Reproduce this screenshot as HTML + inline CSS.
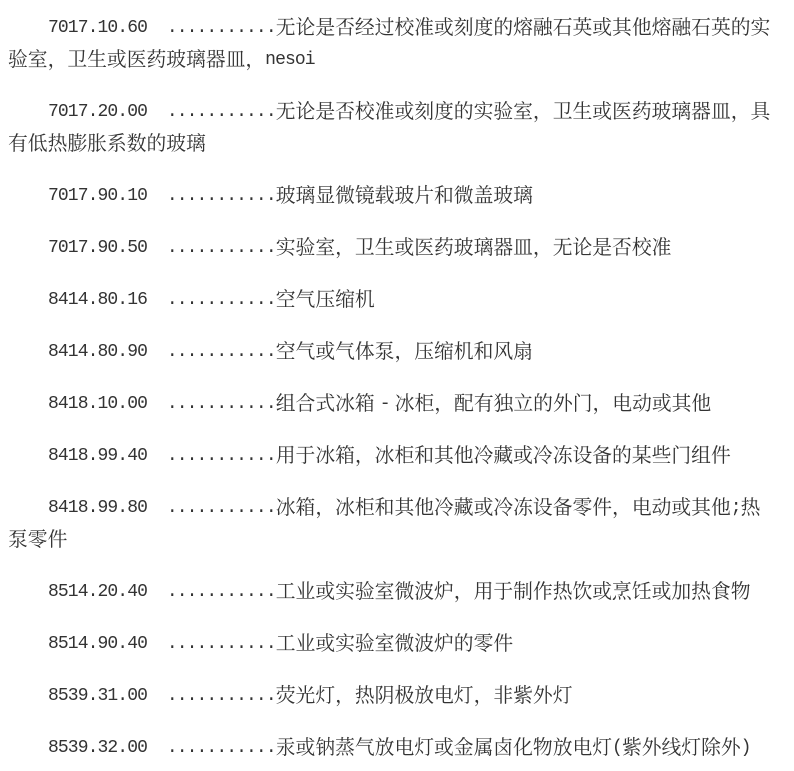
<!DOCTYPE html>
<html><head><meta charset="utf-8"><style>
body{margin:0;width:794px;height:771px;background:#fff;position:relative;overflow:hidden}
.l{position:absolute;left:48px;height:32px;line-height:32px;white-space:pre;color:#333;font-family:"Noto Serif CJK SC","WenQuanYi Zen Hei",serif;font-size:19.8px}
.l.w{left:8px}
.m{font-family:"Liberation Mono",monospace;font-size:18px;letter-spacing:-0.9px;position:relative;top:-2px}
</style></head><body>
<div class="l" style="top:10px"><span class="m">7017.10.60  ...........</span>无论是否经过校准或刻度的熔融石英或其他熔融石英的实</div>
<div class="l w" style="top:42px">验室，卫生或医药玻璃器皿，<span class="m">nesoi</span></div>
<div class="l" style="top:94px"><span class="m">7017.20.00  ...........</span>无论是否校准或刻度的实验室，卫生或医药玻璃器皿，具</div>
<div class="l w" style="top:126px">有低热膨胀系数的玻璃</div>
<div class="l" style="top:178px"><span class="m">7017.90.10  ...........</span>玻璃显微镜载玻片和微盖玻璃</div>
<div class="l" style="top:230px"><span class="m">7017.90.50  ...........</span>实验室，卫生或医药玻璃器皿，无论是否校准</div>
<div class="l" style="top:282px"><span class="m">8414.80.16  ...........</span>空气压缩机</div>
<div class="l" style="top:334px"><span class="m">8414.80.90  ...........</span>空气或气体泵，压缩机和风扇</div>
<div class="l" style="top:386px"><span class="m">8418.10.00  ...........</span>组合式冰箱 <span class="m">-</span> 冰柜，配有独立的外门，电动或其他</div>
<div class="l" style="top:438px"><span class="m">8418.99.40  ...........</span>用于冰箱，冰柜和其他冷藏或冷冻设备的某些门组件</div>
<div class="l" style="top:490px"><span class="m">8418.99.80  ...........</span>冰箱，冰柜和其他冷藏或冷冻设备零件，电动或其他<span class="m">;</span>热</div>
<div class="l w" style="top:522px">泵零件</div>
<div class="l" style="top:574px"><span class="m">8514.20.40  ...........</span>工业或实验室微波炉，用于制作热饮或烹饪或加热食物</div>
<div class="l" style="top:626px"><span class="m">8514.90.40  ...........</span>工业或实验室微波炉的零件</div>
<div class="l" style="top:678px"><span class="m">8539.31.00  ...........</span>荧光灯，热阴极放电灯，非紫外灯</div>
<div class="l" style="top:730px"><span class="m">8539.32.00  ...........</span>汞或钠蒸气放电灯或金属卤化物放电灯<span class="m">(</span>紫外线灯除外<span class="m">)</span></div>
</body></html>
